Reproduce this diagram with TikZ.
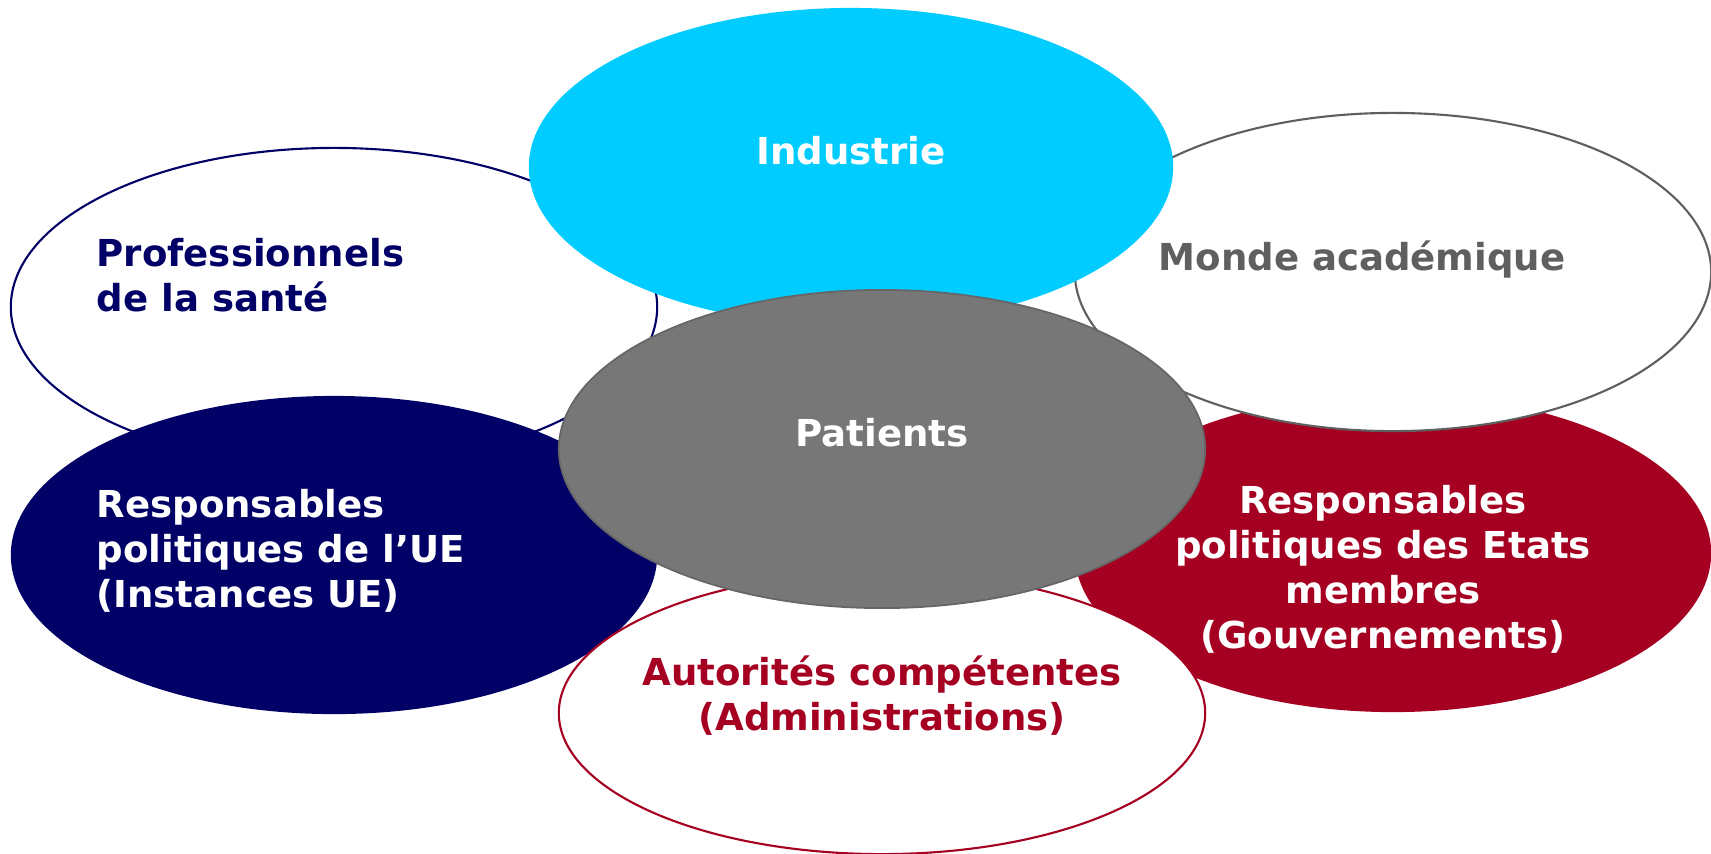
\documentclass[tikz,border=0pt]{standalone}
\usepackage{fontspec}
\setmainfont{DejaVu Sans}
\usepackage{tikz}
\usetikzlibrary{shapes.geometric}
\definecolor{induscyan}{HTML}{00CCFF}
\definecolor{uenavy}{HTML}{000066}
\definecolor{etatred}{HTML}{A50021}
\definecolor{patgray}{HTML}{777777}
\definecolor{patline}{HTML}{666666}
\definecolor{acadgray}{HTML}{5F5F5F}
\begin{document}
\begin{tikzpicture}[x=0.01cm, y=-0.01cm,
    blob/.style = {shape=ellipse, inner sep=0, outer sep=0,
      minimum width=6.46cm, minimum height=3.18cm},
    ring/.style = {blob, fill=white, line width=0.6pt},
    lbl/.style = {inner sep=0, font=\fontsize{10.55}{12.8}\selectfont\bfseries}]
  \useasboundingbox (0,0) rectangle (1711,853);
  % ellipses, back to front
  \node[ring, draw=uenavy] (prof) at (334,307) {};
  \node[blob, fill=uenavy] (ue) at (334,555) {};
  \node[blob, fill=etatred, minimum width=6.36cm] (etats) at (1393,553) {};
  \node[ring, draw=acadgray, minimum width=6.36cm] (monde) at (1393,272) {};
  \node[blob, fill=induscyan, minimum width=6.44cm] (industrie) at (851,167) {};
  \node[ring, draw=etatred, minimum height=2.82cm] (autorites) at (882,713) {};
  \node[blob, draw=patline, line width=0.5pt, fill=patgray] (patients) at (882,449) {};
  % labels
  \node[lbl, white, anchor=base] (tindustrie) at (851,164) {Industrie};
  \node[lbl, uenavy, anchor=north west, align=left] (tprof) at (96,238)
    {Professionnels\\de la santé};
  \node[lbl, acadgray, anchor=base] (tmonde) at (1362,270) {Monde académique};
  \node[lbl, white, anchor=base] (tpatients) at (882,446) {Patients};
  \node[lbl, white, anchor=north west, align=left] (tue) at (96,489)
    {Responsables\\politiques de l’UE\\(Instances UE)};
  \node[lbl, white, anchor=north, align=center] (tetats) at (1383,485)
    {Responsables\\politiques des Etats\\membres\\(Gouvernements)};
  \node[lbl, etatred, anchor=north, align=center] (tautorites) at (882,655)
    {Autorités compétentes\\(Administrations)};
\end{tikzpicture}
\end{document}
